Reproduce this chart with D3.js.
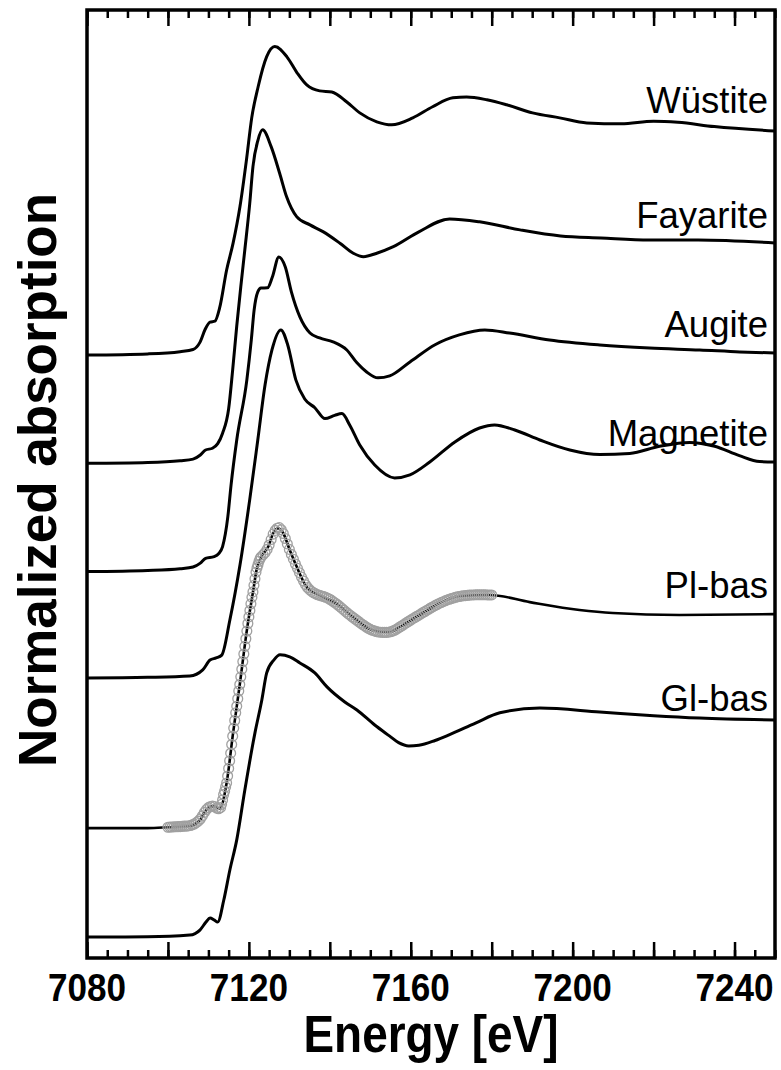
<!DOCTYPE html>
<html><head><meta charset="utf-8">
<script src="https://cdn.jsdelivr.net/npm/d3@7"></script>
<style>
html,body{margin:0;padding:0;background:#fff;}
text{font-family:"Liberation Sans",Arial,Helvetica,sans-serif;fill:#000;}
</style></head>
<body><svg id="chart" width="781" height="1070"></svg>
<script>
// Fe K-edge XANES, normalized absorption vs energy (eV)
const wustiteE  = [7080,7095,7103,7106.2,7107.9,7109.2,7110.4,7111.6,7112.8,7114.5,7116.1,7117.8,7119.4,7120.7,7122.3,7124.4,7126.4,7129.4,7131.9,7134.3,7137.5,7140.5,7144.2,7147.4,7151.6,7155.3,7160.5,7165.4,7170.4,7173.8,7178.8,7183.7,7190.1,7196.8,7203.5,7212,7220,7226,7235,7250];
const wustiteMu = [-0.033,-0.028,-0.018,-0.008,0.025,0.085,0.118,0.122,0.185,0.357,0.480,0.648,0.862,1.055,1.199,1.336,1.382,1.335,1.262,1.206,1.179,1.174,1.128,1.078,1.037,1.023,1.055,1.106,1.147,1.151,1.138,1.115,1.078,1.055,1.032,1.028,1.040,1.035,1.015,0.995];

const fayariteE  = [7080,7095,7103,7106.2,7108,7109.3,7111.0,7112.3,7113.5,7115.0,7116.0,7117.0,7118.0,7119.0,7120.2,7121.0,7122.2,7123.4,7125.5,7127.6,7129.3,7131.8,7135.1,7138.3,7142.5,7145.8,7148.3,7151.6,7155.7,7162,7169.6,7177,7187,7197,7207,7219,7231,7250];
const fayariteMu = [-0.030,-0.026,-0.018,-0.011,0.008,0.031,0.039,0.060,0.108,0.220,0.400,0.600,0.780,0.950,1.160,1.330,1.450,1.500,1.423,1.301,1.194,1.102,1.064,1.033,0.980,0.934,0.918,0.934,0.964,1.032,1.091,1.078,1.041,1.013,1.004,0.995,0.995,0.981];

const augiteE  = [7080,7095,7103,7106.2,7108,7109.3,7111.4,7112.5,7113.5,7114.8,7115.6,7117,7119.5,7120.6,7121.3,7122.2,7123.0,7124.6,7125.8,7127.4,7129.0,7130.5,7132.6,7135.1,7137.5,7140.8,7144.2,7146.7,7149.1,7151.9,7154.8,7159.8,7166,7172,7178.3,7184.4,7194.3,7206.7,7219,7231.4,7241.3,7250];
const augiteMu = [-0.027,-0.022,-0.014,-0.006,0.012,0.034,0.042,0.055,0.088,0.225,0.371,0.577,0.853,1.036,1.174,1.257,1.274,1.275,1.325,1.417,1.371,1.257,1.142,1.068,1.045,1.027,0.990,0.931,0.889,0.862,0.871,0.935,1.014,1.059,1.082,1.068,1.036,1.013,0.999,0.990,0.981,0.976];

const magnetiteE  = [7080,7095,7105.4,7108.6,7110.4,7111.9,7113.3,7115.3,7117.8,7120.2,7122.2,7124,7125.7,7127.9,7129.6,7131.6,7133.8,7136.3,7138.8,7141.2,7143,7144.9,7147.4,7151.1,7156,7159.8,7164.7,7170.9,7177,7180.7,7185.7,7191.9,7199.3,7206.7,7214.1,7221.5,7228.9,7235.1,7241.2,7246.2,7250];
const magnetiteMu = [-0.015,-0.012,-0.006,0.022,0.067,0.077,0.090,0.251,0.503,0.802,1.077,1.330,1.490,1.582,1.513,1.353,1.265,1.225,1.175,1.190,1.198,1.146,1.054,0.962,0.903,0.917,0.976,1.068,1.132,1.146,1.123,1.077,1.031,1.010,1.015,1.048,1.066,1.048,1.005,0.978,0.976];

const plbasE  = [7080,7095,7100,7105.4,7107.9,7109.1,7110.4,7111.6,7112.8,7114.5,7116.1,7117.8,7119.4,7121.1,7121.9,7123.1,7124.8,7126.0,7127.2,7128.5,7130.1,7131.8,7134.3,7137.5,7141.7,7145.8,7150.7,7154.9,7157.3,7162.2,7167.2,7172.1,7179.5,7189.4,7201.7,7209.9,7226.4,7250];
const plbasMu = [-0.004,-0.004,0.000,0.006,0.033,0.070,0.093,0.097,0.085,0.203,0.433,0.662,0.891,1.089,1.181,1.242,1.288,1.349,1.372,1.349,1.272,1.196,1.102,1.064,1.026,0.964,0.903,0.896,0.919,0.974,1.029,1.061,1.066,1.033,0.997,0.983,0.974,0.978];

const glbasE  = [7080,7095,7105.4,7107.9,7109.4,7110.4,7111.4,7112.3,7113.8,7115.3,7117.0,7119.0,7121.5,7123.2,7124.4,7126.2,7127.7,7130.1,7132.6,7136.3,7139.3,7143.7,7146.7,7151.1,7154.8,7157,7159.5,7162,7166,7169.6,7176,7182,7191.9,7206.7,7220,7231.4,7250];
const glbasMu = [-0.004,-0.003,0.005,0.028,0.065,0.084,0.075,0.065,0.166,0.304,0.442,0.671,0.933,1.084,1.208,1.268,1.291,1.282,1.254,1.208,1.144,1.075,1.038,0.969,0.918,0.888,0.873,0.876,0.898,0.925,0.978,1.025,1.047,1.029,1.012,1.001,0.992];

// linear-combination fit of Pl-bas, sampled on the scan grid
const plFitPreStart = 7100, plFitPreStep = 0.5;      // 7100 - 7112.5
const plFitPre = [0.000,0.001,0.001,0.002,0.002,0.003,0.003,0.004,0.005,0.005,0.006,0.008,0.011,0.015,0.021,0.028,0.038,0.052,0.068,0.081,0.090,0.095,0.097,0.095,0.088,0.085];
const plFitEdgeStart = 7113, plFitEdgeStep = 0.25;   // 7113 - 7122.75
const plFitEdge = [0.090,0.105,0.125,0.150,0.165,0.185,0.203,0.235,0.270,0.305,0.340,0.380,0.418,0.455,0.490,0.525,0.555,0.590,0.625,0.655,0.690,0.725,0.760,0.795,0.830,0.865,0.900,0.935,0.965,0.995,1.025,1.055,1.080,1.110,1.140,1.170,1.190,1.205,1.220,1.232];
const plFitPostStart = 7123, plFitPostStep = 0.5;    // 7123 - 7180
const plFitPost = [1.240,1.250,1.260,1.275,1.295,1.320,1.345,1.362,1.372,1.375,1.365,1.348,1.325,1.300,1.275,
  1.252,1.230,1.208,1.188,1.168,1.148,1.130,1.113,1.100,1.090,1.082,1.076,1.071,1.067,1.064,1.061,1.058,1.055,1.051,1.046,
  1.040,1.033,1.027,1.020,1.012,1.004,0.996,0.988,0.980,0.973,0.966,0.959,0.952,0.945,0.938,0.931,0.925,0.919,0.913,0.908,
  0.904,0.901,0.898,0.896,0.895,0.894,0.894,0.894,0.895,0.897,0.900,0.904,0.909,0.915,0.921,0.927,0.933,0.939,0.945,0.951,
  0.957,0.962,0.968,0.973,0.979,0.985,0.990,0.996,1.001,1.007,1.012,1.017,1.022,1.027,1.031,1.035,1.039,1.043,1.046,1.049,
  1.052,1.055,1.057,1.059,1.061,1.062,1.063,1.064,1.065,1.066,1.066,1.067,1.067,1.067,1.067,1.067,1.067,1.066,1.066,1.066];

const seriesNames   = ["Wüstite","Fayarite","Augite","Magnetite","Pl-bas","Gl-bas"];
const seriesOffsets = [2.7, 2.2, 1.7, 1.2, 0.5, 0];

const xDomain = [7080, 7250];
const yDomain = [-0.1, 4.25];
const xTickLabels = [7080, 7120, 7160, 7200, 7240];
const xMajorTicks = d3.range(7080, 7250, 20);
const xMinorTicks = d3.range(7080, 7251, 5);

(function draw() {
  const svg = d3.select("#chart");
  const plotL = 87, plotR = 775, plotT = 10, plotB = 958;
  const x = d3.scaleLinear().domain(xDomain).range([plotL, plotR]);
  const y = d3.scaleLinear().domain(yDomain).range([plotB, plotT]);

  const zip = (E, M) => E.map((e, i) => [e, M[i]]);
  const series = [
    zip(wustiteE, wustiteMu), zip(fayariteE, fayariteMu), zip(augiteE, augiteMu),
    zip(magnetiteE, magnetiteMu), zip(plbasE, plbasMu), zip(glbasE, glbasMu)
  ];

  const fitPoints = [
    ...plFitPre.map((v, i) => [plFitPreStart + i * plFitPreStep, v]),
    ...plFitEdge.map((v, i) => [plFitEdgeStart + i * plFitEdgeStep, v]),
    ...plFitPost.map((v, i) => [plFitPostStart + i * plFitPostStep, v])
  ];

  const lineFor = off => d3.line()
    .x(d => x(d[0])).y(d => y(d[1] + off))
    .curve(d3.curveMonotoneX);

  // spectra
  const g = svg.append("g");
  series.forEach((s, i) => {
    g.append("path").datum(s)
      .attr("d", lineFor(seriesOffsets[i]))
      .attr("fill", "none").attr("stroke", "#000")
      .attr("stroke-width", i === 4 ? 2.6 : 3).attr("stroke-linejoin", "round");
  });

  // fit markers (open circles) over Pl-bas
  const plOff = seriesOffsets[4];
  g.append("g").selectAll("circle").data(fitPoints).join("circle")
    .attr("cx", d => x(d[0])).attr("cy", d => y(d[1] + plOff))
    .attr("r", 4.9).attr("fill", "none")
    .attr("stroke", "#a0a0a0").attr("stroke-width", 1.3);

  // curve labels, placed just above each spectrum's edge-step level
  const labelLift = [1.078, 1.05, 1.05, 1.05, 1.05, 1.035];
  seriesNames.forEach((name, i) => {
    svg.append("text").attr("x", 768).attr("y", y(seriesOffsets[i] + labelLift[i]))
      .attr("text-anchor", "end").attr("font-size", 36.5).text(name);
  });

  // frame and ticks
  const axG = svg.append("g");
  const tickStyle = sel => sel.call(a => a.select(".domain").remove())
    .call(a => a.selectAll("line").attr("stroke", "#000").attr("stroke-width", 2.5))
    .call(a => a.selectAll("text").remove());
  axG.append("g").attr("transform", `translate(0,${plotB})`)
    .call(d3.axisBottom(x).tickValues(xMinorTicks).tickSize(-8)).call(tickStyle);
  axG.append("g").attr("transform", `translate(0,${plotB})`)
    .call(d3.axisBottom(x).tickValues(xMajorTicks).tickSize(-16)).call(tickStyle);
  axG.append("g").attr("transform", `translate(0,${plotT})`)
    .call(d3.axisTop(x).tickValues(xMinorTicks).tickSize(-8)).call(tickStyle);
  axG.append("g").attr("transform", `translate(0,${plotT})`)
    .call(d3.axisTop(x).tickValues(xMajorTicks).tickSize(-16)).call(tickStyle);
  svg.append("rect").attr("x", plotL).attr("y", plotT)
    .attr("width", plotR - plotL).attr("height", plotB - plotT)
    .attr("fill", "none").attr("stroke", "#000").attr("stroke-width", 3.5);

  xTickLabels.forEach(v => {
    svg.append("text")
      .attr("transform", `translate(${x(v)},1001) scale(0.9,1)`)
      .attr("text-anchor", "middle").attr("font-weight", "bold")
      .attr("font-size", 39).text(v);
  });
  svg.append("text")
    .attr("transform", `translate(${(plotL + plotR) / 2},1052) scale(0.9,1)`)
    .attr("text-anchor", "middle").attr("font-weight", "bold")
    .attr("font-size", 51).text("Energy [eV]");
  svg.append("text")
    .attr("transform", `translate(56,480) rotate(-90)`)
    .attr("text-anchor", "middle").attr("font-weight", "bold")
    .attr("font-size", 53).text("Normalized absorption");
})();
</script>
</body></html>
